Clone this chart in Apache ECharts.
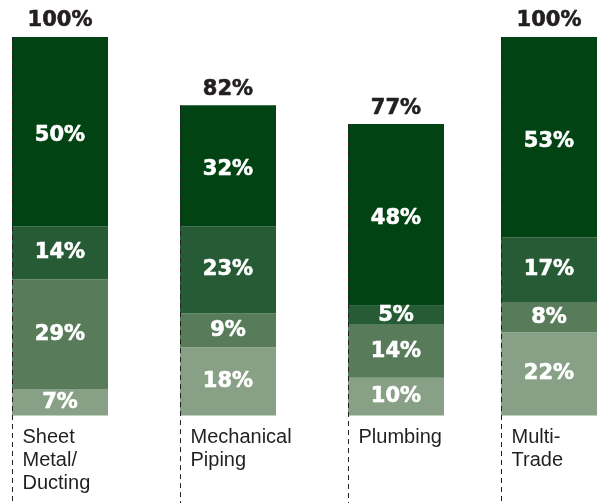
<!DOCTYPE html>
<html>
<head>
<meta charset="utf-8">
<script src="https://cdn.jsdelivr.net/npm/echarts@6/dist/echarts.min.js"></script>
<style>
  html, body { margin: 0; padding: 0; background: #ffffff; }
  #chart { width: 601px; height: 503px; }
</style>
</head>
<body>
<div id="chart"></div>
<script>
// Trade categories along the bottom
const categories = ['Sheet\nMetal/\nDucting', 'Mechanical\nPiping', 'Plumbing', 'Multi-\nTrade'];

// Stacked shares per trade, bottom segment first (percent)
const shareLight = [7, 18, 10, 22];
const shareMidLight = [29, 9, 14, 8];
const shareMidDark = [14, 23, 5, 17];
const shareDark = [50, 32, 48, 53];

// Totals shown above each bar (percent)
const totals = [100, 82, 77, 100];

const layers = [
  { name: 'Layer 1', values: shareLight, color: '#88a085', offset: 0 },
  { name: 'Layer 2', values: shareMidLight, color: '#587c5a', offset: 0 },
  { name: 'Layer 3', values: shareMidDark, color: '#265b36', offset: 0 },
  { name: 'Layer 4', values: shareDark, color: '#024313', offset: 4 }
];

const valueFont = { fontFamily: 'DejaVu Sans', fontWeight: 'bold', fontSize: 21 };
const BAR_W = 96;
const INK = '#231f20';

// The first three trades share one grid; the last trade sits in its own narrower slot.
const groups = [
  { from: 0, to: 3 },
  { from: 3, to: 4 }
];

const grids = [
  { left: 60, right: 205, top: 37, bottom: 87.5 },
  { left: 501, width: 96, top: 37, bottom: 87.5 }
];

const xAxes = groups.map((g, gi) => ({
  type: 'category',
  gridIndex: gi,
  data: categories.slice(g.from, g.to),
  boundaryGap: gi === 1,
  show: false
}));

const yAxes = groups.map((g, gi) => ({
  type: 'value',
  gridIndex: gi,
  min: 0,
  max: 100,
  show: false
}));

const series = [];
groups.forEach((g, gi) => {
  layers.forEach(layer => {
    series.push({
      type: 'bar',
      name: layer.name,
      xAxisIndex: gi,
      yAxisIndex: gi,
      stack: 'total' + gi,
      barWidth: BAR_W,
      clip: false,
      data: layer.values.slice(g.from, g.to),
      itemStyle: { color: layer.color },
      label: {
        show: true,
        position: 'inside',
        offset: [0, layer.offset],
        color: '#ffffff',
        textBorderColor: '#ffffff',
        textBorderWidth: 0.6,
        formatter: '{c}%',
        ...valueFont
      },
      emphasis: { disabled: true },
      silent: true
    });
  });
  series.push({
    type: 'scatter',
    xAxisIndex: gi,
    yAxisIndex: gi,
    data: totals.slice(g.from, g.to),
    symbol: 'circle',
    symbolSize: 1,
    clip: false,
    itemStyle: { color: 'rgba(0,0,0,0)', opacity: 1 },
    label: {
      show: true,
      position: 'top',
      distance: 5,
      color: INK,
      opacity: 1,
      textBorderColor: INK,
      textBorderWidth: 0.6,
      formatter: '{c}%',
      ...valueFont
    },
    emphasis: { disabled: true },
    silent: true,
    z: 5
  });
});

const chart = echarts.init(document.getElementById('chart'), null, { renderer: 'canvas' });
chart.setOption({
  animation: false,
  grid: grids,
  xAxis: xAxes,
  yAxis: yAxes,
  series: series
});

// Dashed guides along each bar's left edge, with the trade name beside them
const graphics = [];
groups.forEach((g, gi) => {
  for (let i = g.from; i < g.to; i++) {
    const local = i - g.from;
    const top = chart.convertToPixel({ gridIndex: gi }, [local, totals[i]]);
    const left = Math.round(top[0] - BAR_W / 2) + 0.5;
    const base = chart.convertToPixel({ gridIndex: gi }, [local, 0]);
    graphics.push({
      type: 'line',
      shape: { x1: left, y1: top[1], x2: left, y2: 503 },
      style: { stroke: INK, lineWidth: 1, lineDash: [5, 4] },
      z: 10,
      silent: true
    });
    graphics.push({
      type: 'text',
      x: left + 10,
      y: base[1] + 10,
      style: {
        text: categories[i],
        fontFamily: 'Liberation Sans',
        fontSize: 20,
        lineHeight: 23,
        fill: INK,
        align: 'left',
        verticalAlign: 'top'
      },
      z: 10,
      silent: true
    });
  }
});
chart.setOption({ graphic: graphics });
</script>
</body>
</html>
